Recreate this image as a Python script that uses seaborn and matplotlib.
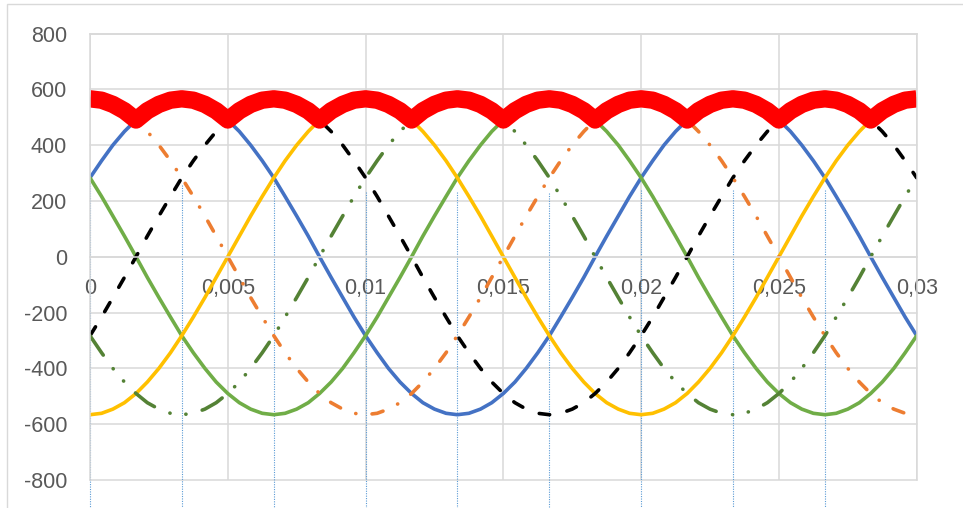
import matplotlib
matplotlib.use("Agg")
import matplotlib.pyplot as plt
import matplotlib.patches as mpatches
import pandas as pd
import seaborn as sns

# ------------------------------------------------------------------------------
# data: line-to-line voltages, one sample every 7.5 degrees (50 Hz)
# ------------------------------------------------------------------------------
t = [0, 0.00042, 0.00083, 0.00125, 0.00167, 0.00208, 0.0025, 0.00292, 0.00333, 0.00375, 0.00417, 0.00458,
     0.005, 0.00542, 0.00583, 0.00625, 0.00667, 0.00708, 0.0075, 0.00792, 0.00833, 0.00875, 0.00917, 0.00958,
     0.01, 0.01042, 0.01083, 0.01125, 0.01167, 0.01208, 0.0125, 0.01292, 0.01333, 0.01375, 0.01417, 0.01458,
     0.015, 0.01542, 0.01583, 0.01625, 0.01667, 0.01708, 0.0175, 0.01792, 0.01833, 0.01875, 0.01917, 0.01958,
     0.02, 0.02042, 0.02083, 0.02125, 0.02167, 0.02208, 0.0225, 0.02292, 0.02333, 0.02375, 0.02417, 0.02458,
     0.025, 0.02542, 0.02583, 0.02625, 0.02667, 0.02708, 0.0275, 0.02792, 0.02833, 0.02875, 0.02917, 0.02958,
     0.03]

u_blue = [283, 344, 400, 449, 490, 523, 546, 561,
          566, 561, 546, 523, 490, 449, 400, 344, 283, 216, 146, 74,
          0, -74, -146, -216, -283, -344, -400, -449, -490, -523, -546, -561,
          -566, -561, -546, -523, -490, -449, -400, -344, -283, -216, -146, -74,
          0, 74, 146, 216, 283, 344, 400, 449, 490, 523, 546, 561,
          566, 561, 546, 523, 490, 449, 400, 344, 283, 216, 146, 74,
          0, -74, -146, -216, -283]
u_green = [283, 216, 146, 74,
           0, -74, -146, -216, -283, -344, -400, -449, -490, -523, -546, -561,
           -566, -561, -546, -523, -490, -449, -400, -344, -283, -216, -146, -74,
           0, 74, 146, 216, 283, 344, 400, 449, 490, 523, 546, 561,
           566, 561, 546, 523, 490, 449, 400, 344, 283, 216, 146, 74,
           0, -74, -146, -216, -283, -344, -400, -449, -490, -523, -546, -561,
           -566, -561, -546, -523, -490, -449, -400, -344, -283]
u_yellow = [-566, -561, -546, -523, -490, -449, -400, -344, -283, -216, -146, -74,
            0, 74, 146, 216, 283, 344, 400, 449, 490, 523, 546, 561,
            566, 561, 546, 523, 490, 449, 400, 344, 283, 216, 146, 74,
            0, -74, -146, -216, -283, -344, -400, -449, -490, -523, -546, -561,
            -566, -561, -546, -523, -490, -449, -400, -344, -283, -216, -146, -74,
            0, 74, 146, 216, 283, 344, 400, 449, 490, 523, 546, 561,
            566]
u_black = [-283, -216, -146, -74,
           0, 74, 146, 216, 283, 344, 400, 449, 490, 523, 546, 561,
           566, 561, 546, 523, 490, 449, 400, 344, 283, 216, 146, 74,
           0, -74, -146, -216, -283, -344, -400, -449, -490, -523, -546, -561,
           -566, -561, -546, -523, -490, -449, -400, -344, -283, -216, -146, -74,
           0, 74, 146, 216, 283, 344, 400, 449, 490, 523, 546, 561,
           566, 561, 546, 523, 490, 449, 400, 344, 283]
u_orange = [566, 561, 546, 523, 490, 449, 400, 344, 283, 216, 146, 74,
            0, -74, -146, -216, -283, -344, -400, -449, -490, -523, -546, -561,
            -566, -561, -546, -523, -490, -449, -400, -344, -283, -216, -146, -74,
            0, 74, 146, 216, 283, 344, 400, 449, 490, 523, 546, 561,
            566, 561, 546, 523, 490, 449, 400, 344, 283, 216, 146, 74,
            0, -74, -146, -216, -283, -344, -400, -449, -490, -523, -546, -561,
            -566]
u_dkgreen = [-283, -344, -400, -449, -490, -523, -546, -561,
             -566, -561, -546, -523, -490, -449, -400, -344, -283, -216, -146, -74,
             0, 74, 146, 216, 283, 344, 400, 449, 490, 523, 546, 561,
             566, 561, 546, 523, 490, 449, 400, 344, 283, 216, 146, 74,
             0, -74, -146, -216, -283, -344, -400, -449, -490, -523, -546, -561,
             -566, -561, -546, -523, -490, -449, -400, -344, -283, -216, -146, -74,
             0, 74, 146, 216, 283]
# rectified output (upper envelope)
u_rect = [566, 561, 546, 523, 490, 523, 546, 561,
          566, 561, 546, 523, 490, 523, 546, 561,
          566, 561, 546, 523, 490, 523, 546, 561,
          566, 561, 546, 523, 490, 523, 546, 561,
          566, 561, 546, 523, 490, 523, 546, 561,
          566, 561, 546, 523, 490, 523, 546, 561,
          566, 561, 546, 523, 490, 523, 546, 561,
          566, 561, 546, 523, 490, 523, 546, 561,
          566, 561, 546, 523, 490, 523, 546, 561,
          566]

# thin dotted markers (time, top value)
marker_t = [0, 0.00333, 0.00667, 0.01, 0.01333, 0.01667, 0.02, 0.02333, 0.02667]
marker_top = [283, 257, 264, 232, 232, 228, 240, 240, 240]

x_ticks = [0, 0.005, 0.01, 0.015, 0.02, 0.025, 0.03]
x_labels = ["0", "0,005", "0,01", "0,015", "0,02", "0,025", "0,03"]
y_ticks = [-800, -600, -400, -200, 0, 200, 400, 600, 800]

df = pd.DataFrame({"t": t, "blue": u_blue, "green": u_green, "yellow": u_yellow,
                   "black": u_black, "orange": u_orange, "dkgreen": u_dkgreen,
                   "rect": u_rect})

# ------------------------------------------------------------------------------
# styling
# ------------------------------------------------------------------------------
sns.set_style("white")
plt.rcParams["font.family"] = ["Liberation Sans", "DejaVu Sans"]
plt.rcParams["axes.unicode_minus"] = False

GRID = "#d9d9d9"
TEXT = "#595959"
LW = 2.6

series = [
    ("blue", "#4472C4", "-"),
    ("green", "#70AD47", "-"),
    ("yellow", "#FFC000", "-"),
    ("black", "#000000", (0, (2.9, 4.9))),
    ("orange", "#ED7D31", (0, (3.15, 4.5, 0.05, 4.5))),
    ("dkgreen", "#548235", (0, (6.5, 4.65, 0.05, 4.4, 0.05, 4.65))),
]

fig = plt.figure(figsize=(9.63, 5.08), dpi=100)
ax = fig.add_axes([90 / 963, 28 / 508, 826.7 / 963, 446.5 / 508])

for col, color, ls in series:
    sns.lineplot(data=df, x="t", y=col, ax=ax, color=color, linewidth=LW,
                 linestyle=ls, dash_capstyle="round", solid_capstyle="round",
                 solid_joinstyle="round", errorbar=None, estimator=None, legend=False)

sns.lineplot(data=df, x="t", y="rect", ax=ax, color="#FF0000", linewidth=12.5,
             solid_capstyle="butt", solid_joinstyle="round",
             errorbar=None, estimator=None, legend=False)

for mt, top in zip(marker_t, marker_top):
    ax.plot([mt, mt], [top, -950], color="#5B9BD5", lw=0.8,
            linestyle=(0, (1, 1.2)), clip_on=False, zorder=1.5)

ax.set_xlim(0, 0.03)
ax.set_ylim(-800, 800)
ax.set_xticks(x_ticks)
ax.set_xticklabels(x_labels)
ax.set_yticks(y_ticks)
ax.set_xlabel("")
ax.set_ylabel("")

ax.set_axisbelow(True)
ax.grid(True, color=GRID, linewidth=1.1)
for gl in ax.get_xgridlines() + ax.get_ygridlines():
    gl.set_clip_on(False)

for side in ["left", "right", "top"]:
    ax.spines[side].set_color(GRID)
    ax.spines[side].set_linewidth(1.1)
ax.spines["bottom"].set_position(("data", 0))
ax.spines["bottom"].set_color(GRID)
ax.spines["bottom"].set_linewidth(1.1)

ax.tick_params(axis="x", length=0, pad=15, labelsize=15.5, labelcolor=TEXT)
ax.tick_params(axis="y", length=0, pad=16.5, labelsize=15.5, labelcolor=TEXT)

# outer chart-area border
fig.patches.append(mpatches.Rectangle((7 / 963, -0.1), 1.2, 1.1 - 4 / 508,
                                      transform=fig.transFigure, fill=False,
                                      edgecolor=GRID, linewidth=1.0))

fig.savefig("out.png", dpi=100)
